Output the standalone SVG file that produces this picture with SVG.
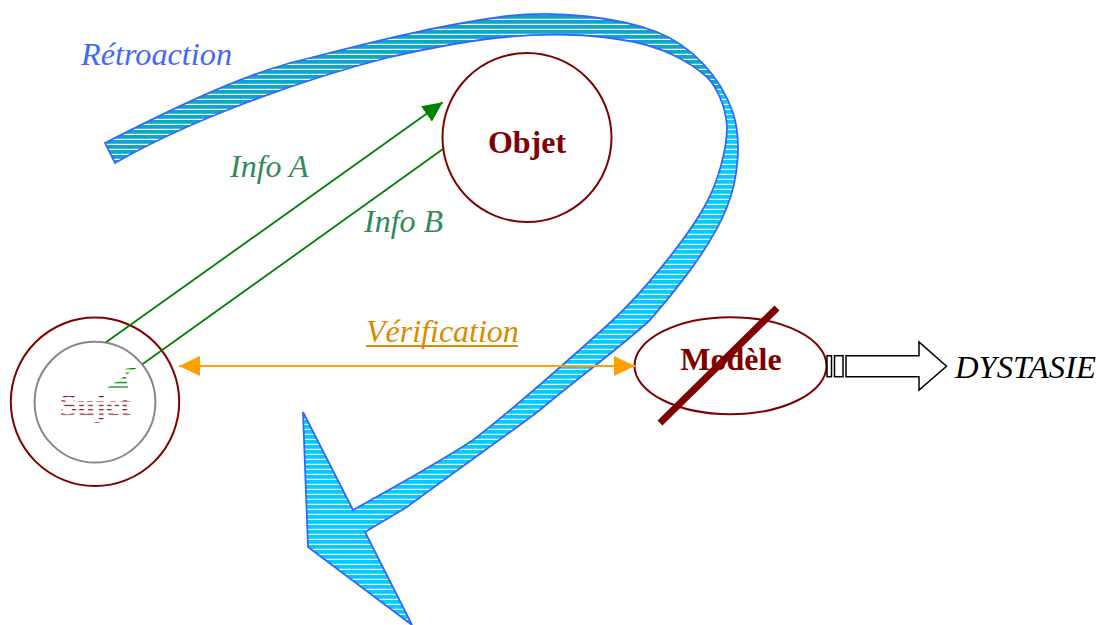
<svg xmlns="http://www.w3.org/2000/svg" width="1099" height="625" viewBox="0 0 1099 625">
<style>
.lbl{font-family:"Liberation Serif","Times New Roman",serif;font-style:italic;font-size:32px}
.node-txt{font-family:"Liberation Serif","Times New Roman",serif;font-weight:bold;font-size:32px;text-anchor:middle}
.ring{fill:none;stroke:#800000;stroke-width:2}
.green{stroke:#008000;stroke-width:1.8;fill:none}
.orange{stroke:#ffa000;stroke-width:2;fill:none}
.band-edge{fill:none;stroke:#3366ff;stroke-width:1.8;stroke-linejoin:miter}
</style>
<defs>
<pattern id="hatchBright" patternUnits="userSpaceOnUse" width="10" height="5">
<rect width="10" height="5" fill="#00ccff"/><rect y="3.8" width="10" height="1.2" fill="#ffffff"/>
</pattern>
<pattern id="hatchDark" patternUnits="userSpaceOnUse" width="10" height="5">
<rect width="10" height="5" fill="#0aa6cc"/><rect y="3.8" width="10" height="1.2" fill="#ffffff"/>
</pattern>
<pattern id="stripeRed" patternUnits="userSpaceOnUse" width="10" height="4.4">
<rect width="10" height="1.1" fill="#800000"/>
</pattern>
<pattern id="stripeGreen" patternUnits="userSpaceOnUse" width="10" height="4.6">
<rect width="10" height="1.3" fill="#008000"/>
</pattern>
<clipPath id="topPart"><polygon points="0,0 724,0 724,90 0,200"/></clipPath>
<marker id="arrGreen" markerUnits="userSpaceOnUse" markerWidth="20" markerHeight="19" refX="20" refY="9.5" orient="auto">
<path d="M0,0 L20,9.5 L0,19 Z" fill="#008000"/>
</marker>
<marker id="arrOrange" markerUnits="userSpaceOnUse" markerWidth="21" markerHeight="20" refX="21" refY="10" orient="auto-start-reverse">
<path d="M0,0 L21,10 L0,20 Z" fill="#ffa000"/>
</marker>
<path id="bandShape" d="M105,143 C160,115 230,80 290,63 C350,48 420,28 507,16 C560,10 620,18 657,32 C690,45 720,75 733,113 C742,140 738,180 727,207 C712,245 680,285 650,320 C620,348 575,380 540,410 C510,433 450,475 407,507 L365,532 L412,625 L308,547 L303,412 L353,510 C380,495 440,462 473,440 C510,412 580,350 613,320 C645,290 690,235 708,200 C718,180 727,150 727,127 C726,105 715,85 707,77 C690,62 660,45 623,40 C590,34 545,33 507,37 C470,40 430,48 390,57 C300,80 190,120 115,163 Z"/>
</defs>

<g id="retroaction-arrow">
<use href="#bandShape" fill="url(#hatchBright)"/>
<use href="#bandShape" fill="url(#hatchDark)" clip-path="url(#topPart)"/>
<use href="#bandShape" class="band-edge"/>
</g>

<g id="node-objet">
<circle class="ring" cx="527" cy="137.5" r="84.5" fill="#ffffff"/>
<text class="node-txt" x="527" y="153" fill="#800000">Objet</text>
</g>

<g id="node-sujet">
<circle class="ring" cx="95" cy="401.8" r="84.2"/>
<circle cx="95" cy="402.2" r="60.4" fill="none" stroke="#888888" stroke-width="2"/>
<text class="node-txt" x="95" y="416" fill="url(#stripeRed)">Sujet</text>
</g>

<g id="node-modele">
<ellipse class="ring" cx="730.5" cy="365.7" rx="96" ry="48.5" fill="#ffffff"/>
<text class="node-txt" x="731" y="370" fill="#800000">Modèle</text>
<line x1="777" y1="308" x2="660" y2="423" stroke="#800000" stroke-width="7"/>
</g>

<g id="node-dystasie">
<rect x="827" y="355.7" width="4.5" height="21" fill="#ffffff" stroke="#000" stroke-width="1.5"/>
<rect x="834.5" y="355.7" width="8.5" height="21" fill="#ffffff" stroke="#000" stroke-width="1.5"/>
<path d="M846,355.7 L919,355.7 L919,342 L946.5,366.2 L919,390 L919,376.7 L846,376.7 Z" fill="#ffffff" stroke="#000" stroke-width="1.5"/>
<text class="lbl" x="955" y="378" fill="#000000" textLength="141" lengthAdjust="spacingAndGlyphs">DYSTASIE</text>
</g>

<g id="connectors">
<line class="green" x1="106" y1="342.3" x2="442.7" y2="102.3" marker-end="url(#arrGreen)"/>
<line class="green" x1="442.7" y1="149.3" x2="142.7" y2="364"/>
<polygon points="107,388 128,388 125,369 138,367" fill="url(#stripeGreen)"/>
<line class="orange" x1="179" y1="366" x2="635" y2="366" marker-start="url(#arrOrange)" marker-end="url(#arrOrange)"/>
</g>

<g id="labels">
<text class="lbl" x="81" y="65" fill="#4466ff" textLength="151" lengthAdjust="spacingAndGlyphs">Rétroaction</text>
<text class="lbl" x="230" y="177" fill="#2e8b57">Info A</text>
<text class="lbl" x="364" y="232" fill="#2e8b57">Info B</text>
<text class="lbl" x="366" y="342" fill="#d98a00">Vérification</text>
<line x1="366" y1="346" x2="518" y2="346" stroke="#d98a00" stroke-width="2"/>
</g>
</svg>
